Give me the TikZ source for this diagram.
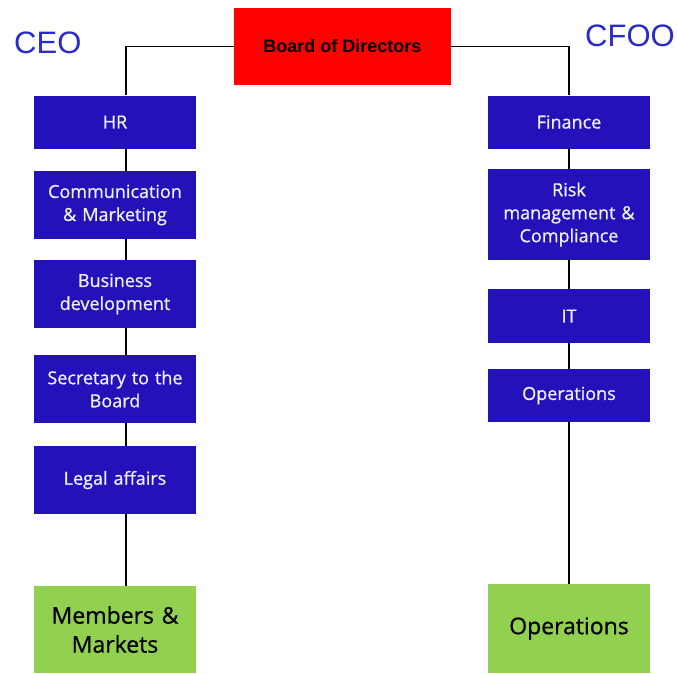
\documentclass[tikz,border=0pt]{standalone}
\usepackage{fontspec}
\setmainfont{Open Sans}
\newfontfamily\boxfont{Open Sans}[FakeBold=0.8]
\newfontfamily\arialf{Liberation Sans}
\definecolor{boxblue}{RGB}{35,17,185}
\definecolor{titleblue}{RGB}{43,43,203}
\definecolor{boxgreen}{RGB}{146,208,80}
\definecolor{boxred}{RGB}{255,0,0}
\definecolor{boxtext}{RGB}{240,240,250}
\begin{document}
\begin{tikzpicture}[x=1pt,y=-1pt,
  unitbox/.style={rectangle, fill=boxblue, draw=none, text=boxtext, minimum width=162pt,
    text width=150pt, align=center, inner sep=0pt,
    font=\boxfont\fontsize{18}{23}\selectfont},
  greenbox/.style={rectangle, fill=boxgreen, draw=none, text=black, minimum width=162pt,
    text width=150pt, align=center, inner sep=0pt,
    font=\boxfont\fontsize{23}{29}\selectfont},
  link/.style={draw=black, line width=1.2pt},
  title/.style={text=titleblue, inner sep=0pt, anchor=base west, font=\arialf\fontsize{31}{36}\selectfont}]
\useasboundingbox (0,0) rectangle (677,673);
% board
\node[rectangle, fill=boxred, minimum width=217pt, minimum height=77pt, inner sep=0pt,
  font=\arialf\bfseries\fontsize{18}{22}\selectfont] (board) at (342.5,46.5) {Board of Directors};
% titles
\node[title] (ceo) at (14,53) {CEO};
\node[title] (cfoo) at (585,46) {CFOO};
% left column
\node[unitbox, minimum height=53pt] (hr) at (115,122) {HR};
\node[unitbox, minimum height=68pt] (comm) at (115,205) {Communication\\\& Marketing};
\node[unitbox, minimum height=68pt] (bus) at (115,294) {Business\\development};
\node[unitbox, minimum height=68pt] (sec) at (115,389) {Secretary to the\\Board};
\node[unitbox, minimum height=68pt] (legal) at (115,480) {Legal affairs};
\node[greenbox, minimum height=87pt] (members) at (115,629.5) {Members \&\\Markets};
% right column
\node[unitbox, minimum height=53pt] (fin) at (569,122) {Finance};
\node[unitbox, minimum height=91pt] (risk) at (569,214.5) {Risk\\management \&\\Compliance};
\node[unitbox, minimum height=54pt] (it) at (569,316) {IT};
\node[unitbox, minimum height=53pt] (ops) at (569,395.5) {Operations};
\node[greenbox, minimum height=89pt] (opsg) at (569,628.5) {Operations};
% spine coordinates
\coordinate (lsp) at (126,0);
\coordinate (rsp) at (569,0);
% connectors
\draw[link] (board.west) -| (hr.north -| lsp);
\draw[link] (board.east) -| (fin.north);
\draw[link] (hr.south -| lsp) -- (comm.north -| lsp);
\draw[link] (comm.south -| lsp) -- (bus.north -| lsp);
\draw[link] (bus.south -| lsp) -- (sec.north -| lsp);
\draw[link] (sec.south -| lsp) -- (legal.north -| lsp);
\draw[link] (legal.south -| lsp) -- (members.north -| lsp);
\draw[link] (fin.south) -- (risk.north);
\draw[link] (risk.south) -- (it.north);
\draw[link] (it.south) -- (ops.north);
\draw[link] (ops.south) -- (opsg.north);
\end{tikzpicture}
\end{document}
